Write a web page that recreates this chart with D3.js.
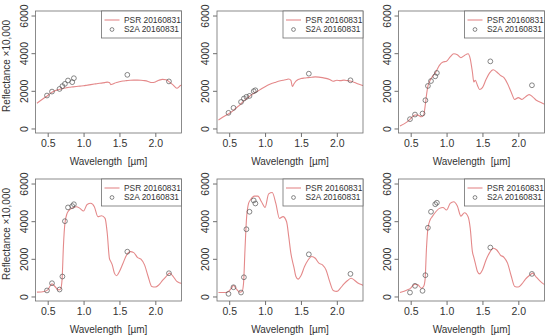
<!DOCTYPE html>
<html>
<head>
<meta charset="utf-8">
<script src="https://cdn.jsdelivr.net/npm/d3@7"></script>
<style>
  body { margin: 0; background: #fff; }
  svg { display: block; font-family: "Liberation Sans", Arial, sans-serif; }
</style>
</head>
<body>
<svg id="chart" width="550" height="336"></svg>
<script>
// PSR spectra sampled along this wavelength grid (µm)
const wavelength = [0.35,0.45,0.5,0.53,0.56,0.6,0.65,0.68,0.7,0.72,0.74,0.77,0.8,0.85,0.9,0.95,1.0,1.05,1.1,1.15,1.2,1.25,1.3,1.33,1.36,1.38,1.4,1.43,1.46,1.5,1.55,1.6,1.65,1.7,1.75,1.8,1.85,1.9,1.95,2.0,2.05,2.1,2.15,2.2,2.25,2.3,2.35,2.4];

const psr1 = [1340,1620,1750,1840,1920,2000,2060,2090,2110,2130,2150,2170,2190,2210,2230,2250,2270,2300,2330,2360,2390,2410,2440,2460,2440,2330,2350,2400,2440,2480,2520,2540,2560,2570,2570,2560,2540,2500,2440,2470,2560,2610,2590,2460,2300,2140,2280,2350];
const psr2 = [450,690,800,880,960,1100,1250,1370,1450,1520,1580,1670,1760,1880,1990,2110,2220,2320,2400,2460,2520,2560,2600,2630,2560,2230,2350,2520,2600,2650,2680,2700,2720,2740,2730,2700,2660,2600,2510,2560,2540,2570,2540,2510,2440,2360,2300,2250];
const psr3 = [130,350,520,640,720,710,620,700,1150,1770,2250,2550,2740,3000,3350,3530,3570,3800,3970,3920,3760,3880,3970,3700,3000,2470,2560,2300,2070,2170,2600,2950,3120,3000,2820,2700,2380,1940,1540,1640,1540,1680,1800,1680,1500,1410,1320,1240];
const psr4 = [230,265,350,530,670,530,350,390,880,2740,3880,4410,4590,4710,4770,4680,4540,4890,4950,4770,4240,4290,4150,3360,2030,1850,1680,1240,1100,1330,1770,2200,2380,2330,2080,1980,1680,1060,530,500,620,850,1060,1240,1060,800,710,620];
const psr5 = [210,210,300,440,580,400,230,270,700,2470,4060,4940,5150,5330,5330,5030,4730,5450,5520,4940,4150,4240,3970,3180,2290,1900,1590,1060,920,1100,1590,1940,2120,2030,1770,1680,1410,800,320,270,440,670,850,970,850,700,620,530];
const psr6 = [210,350,440,580,650,620,440,530,880,2560,3620,4060,4240,4500,4680,4730,4590,4940,5030,4800,4270,4450,4240,3620,2380,2080,1770,1330,1200,1410,1940,2330,2560,2470,2200,2080,1770,1100,530,500,670,920,1100,1240,1030,830,670,560];

// Sentinel-2A band centres (µm) and reflectances
const s2aBands = [0.49,0.56,0.665,0.705,0.74,0.783,0.842,0.865,1.61,2.19];
const s2a1 = [1750,1960,2100,2250,2370,2550,2460,2670,2850,2500];
const s2a2 = [830,1095,1410,1590,1680,1730,1980,2030,2910,2560];
const s2a3 = [495,740,795,1500,2260,2520,2770,2950,3565,2295];
const s2a4 = [320,705,370,1060,4000,4730,4800,4900,2380,1235];
const s2a5 = [140,490,210,1020,3570,4500,5100,4940,2240,1200];
const s2a6 = [210,565,300,1130,3650,4500,4900,4980,2600,1200];

const xTicks = [0.5, 1.0, 1.5, 2.0];
const yTicks = [0, 2000, 4000, 6000];
const legendLabels = ["PSR 20160831", "S2A 20160831"];

const panels = [
  { psr: psr1, s2a: s2a1 }, { psr: psr2, s2a: s2a2 }, { psr: psr3, s2a: s2a3 },
  { psr: psr4, s2a: s2a4 }, { psr: psr5, s2a: s2a5 }, { psr: psr6, s2a: s2a6 }
];

const svg = d3.select("#chart");
const colX = [35.5, 217, 398.5];
const rowY = [11, 179];
const pw = 146, ph = 122;
const lineColor = "#e4898a";
const axisColor = "#6f6f6f";
const textColor = "#333";

const x = d3.scaleLinear().domain([0.33, 2.365]).range([0, pw]);
const y = d3.scaleLinear().domain([-240, 6240]).range([ph, 0]);

svg.append("defs").append("clipPath").attr("id", "plotclip")
  .append("rect").attr("width", pw).attr("height", ph);

panels.forEach((p, i) => {
  const col = i % 3, row = Math.floor(i / 3);
  const g = svg.append("g").attr("transform", `translate(${colX[col]},${rowY[row]})`);

  const plot = g.append("g").attr("clip-path", "url(#plotclip)");
  const line = d3.line()
    .x((d, j) => x(wavelength[j]))
    .y(d => y(d))
    .curve(d3.curveMonotoneX);
  plot.append("path")
    .datum(p.psr)
    .attr("fill", "none")
    .attr("stroke", lineColor)
    .attr("stroke-width", 1.1)
    .attr("d", line);

  plot.selectAll("circle")
    .data(p.s2a)
    .join("circle")
    .attr("cx", (d, j) => x(s2aBands[j]))
    .attr("cy", d => y(d))
    .attr("r", 2.4)
    .attr("fill", "none")
    .attr("stroke", "#555")
    .attr("stroke-width", 0.7);

  // x axis
  const xAxis = g.append("g").attr("transform", `translate(0,${ph})`)
    .call(d3.axisBottom(x).tickValues(xTicks).tickFormat(d3.format(".1f")).tickSize(4).tickPadding(3));
  xAxis.select(".domain").remove();
  xAxis.selectAll("line").attr("stroke", axisColor);
  xAxis.selectAll("text").attr("fill", textColor).attr("font-size", 10.5).attr("font-family", null);

  // y axis (labels parallel to the axis)
  const yAxis = g.append("g")
    .call(d3.axisLeft(y).tickValues(yTicks).tickSize(4).tickFormat(d3.format("d")));
  yAxis.select(".domain").remove();
  yAxis.selectAll("line").attr("stroke", axisColor);
  yAxis.selectAll("text")
    .attr("fill", textColor)
    .attr("font-size", 10.5)
    .attr("font-family", null)
    .attr("x", null).attr("dy", null)
    .attr("text-anchor", "middle")
    .attr("transform", "translate(-8,0) rotate(-90)");

  // frame
  g.append("rect").attr("width", pw).attr("height", ph)
    .attr("fill", "none").attr("stroke", axisColor).attr("stroke-width", 0.8);

  g.append("text")
    .attr("x", pw / 2).attr("y", ph + 32)
    .attr("text-anchor", "middle")
    .attr("font-size", 10)
    .attr("fill", textColor)
    .attr("xml:space", "preserve")
    .text("Wavelength  [µm]");

  if (col === 0) {
    g.append("text")
      .attr("transform", `translate(-26,${ph / 2 - 6}) rotate(-90)`)
      .attr("text-anchor", "middle")
      .attr("font-size", 10)
      .attr("fill", textColor)
      .text("Reflectance ×10,000");
  }

  // legend
  const lw = 80, lh = 27;
  const lg = g.append("g").attr("transform", `translate(${pw - lw},0)`);
  lg.append("rect").attr("width", lw).attr("height", lh)
    .attr("fill", "#fff").attr("stroke", axisColor).attr("stroke-width", 0.8);
  lg.append("line").attr("x1", 3).attr("x2", 18).attr("y1", 9).attr("y2", 9)
    .attr("stroke", lineColor).attr("stroke-width", 1.1);
  lg.append("circle").attr("cx", 10.5).attr("cy", 18.5).attr("r", 1.9)
    .attr("fill", "none").attr("stroke", "#555").attr("stroke-width", 0.7);
  lg.selectAll("text.leg")
    .data(legendLabels)
    .join("text")
    .attr("class", "leg")
    .attr("x", 22.5)
    .attr("y", (d, j) => 9 + j * 9.5)
    .attr("dy", "0.35em")
    .attr("font-size", 8.4)
    .attr("fill", textColor)
    .text(d => d);
});
</script>
</body>
</html>
